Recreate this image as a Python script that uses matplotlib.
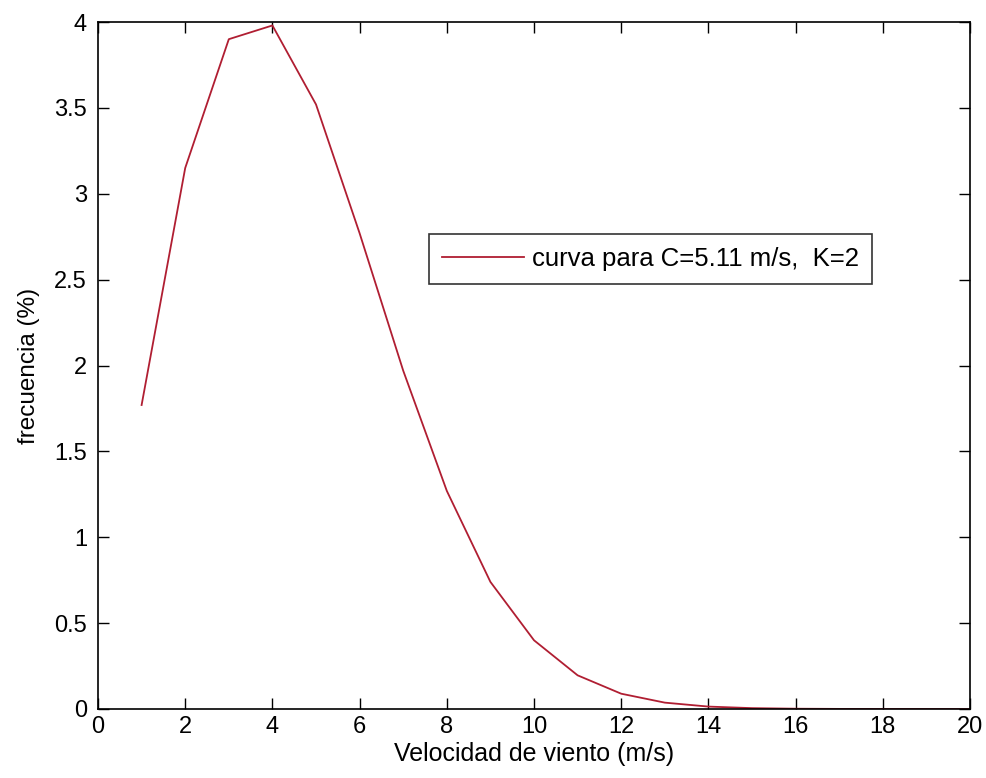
import numpy as np
import matplotlib
matplotlib.use("Agg")
import matplotlib.pyplot as plt

# valores (velocidad en m/s, frecuencia en %)
velocidad = [1, 2, 3, 4, 5, 6, 7, 8, 9, 10, 11, 12, 13, 14, 15, 16, 17, 18, 19, 20]
frecuencia = [1.77, 3.15, 3.90, 3.98, 3.52, 2.77, 1.97, 1.27, 0.74, 0.40,
              0.196, 0.089, 0.037, 0.014, 0.005, 0.0016, 0.0005, 0.0001, 0.00003, 0.0]

x_ticks = [0, 2, 4, 6, 8, 10, 12, 14, 16, 18, 20]
y_ticks = [0, 0.5, 1, 1.5, 2, 2.5, 3, 3.5, 4]
y_ticklabels = ['0', '0.5', '1', '1.5', '2', '2.5', '3', '3.5', '4']

plt.rcParams['font.family'] = ['Liberation Sans', 'DejaVu Sans']

fig = plt.figure(figsize=(9.86, 7.78), dpi=100)
ax = fig.add_axes([0.0994, 0.0887, 0.8844, 0.883])

ax.plot(velocidad, frecuencia, color='#b01e32', linewidth=1.3,
        label='curva para C=5.11 m/s,  K=2')

ax.set_xlim(0, 20)
ax.set_ylim(0, 4)
ax.set_xticks(x_ticks)
ax.set_xticklabels([str(t) for t in x_ticks])
ax.set_yticks(y_ticks)
ax.set_yticklabels(y_ticklabels)

ax.tick_params(direction='in', length=8, width=1, top=True, right=True,
               labelsize=17, colors='black')
ax.tick_params(axis='x', pad=5)
ax.tick_params(axis='y', pad=8)
for s in ax.spines.values():
    s.set_linewidth(1.2)

ax.set_xlabel('Velocidad de viento (m/s)', fontsize=18, labelpad=3)
ax.set_ylabel('frecuencia (%)', fontsize=17.5, labelpad=10)

leg = ax.legend(loc='upper left', bbox_to_anchor=(0.38, 0.691),
                fontsize=18.5, frameon=True, fancybox=False, handlelength=3.2,
                handletextpad=0.3, borderpad=0.5, borderaxespad=0)
leg.get_frame().set_edgecolor('black')
leg.get_frame().set_linewidth(1.2)

fig.savefig('out.png', dpi=100)
